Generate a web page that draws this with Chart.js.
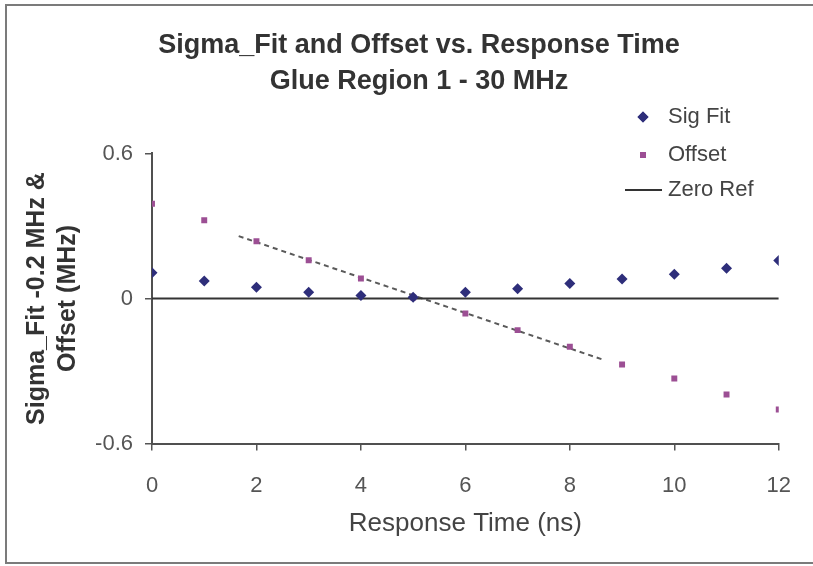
<!DOCTYPE html>
<html><head><meta charset="utf-8">
<script src="https://cdn.jsdelivr.net/npm/chart.js@4.4.1/dist/chart.umd.min.js"></script>
<style>
html,body{margin:0;padding:0;background:#fff;overflow:hidden;}
canvas{display:block;}
</style></head><body>
<canvas id="c" width="813" height="566"></canvas>
<script>
// ---- data ----
const responseTime = [0,1,2,3,4,5,6,7,8,9,10,11,12];
const sigFit = [0.106,0.072,0.047,0.026,0.012,0.005,0.026,0.040,0.062,0.081,0.100,0.125,0.157];
const offsetVals = [0.392,0.324,0.237,0.158,0.083,0.004,-0.062,-0.131,-0.200,-0.273,-0.331,-0.397,-0.459];
const zeroRefX = [0,12];
const zeroRefY = [0,0];
const trendX = [1.66,8.66];
const trendY = [0.258,-0.255];
const xTicks = [0,2,4,6,8,10,12];
const yTicks = [-0.6,0,0.6];
const seriesLabels = ['Sig Fit','Offset','Zero Ref'];
const titleLines = ['Sigma_Fit and Offset vs. Response Time','Glue Region 1 - 30 MHz'];
const xTitle = 'Response Time (ns)';
const yTitleLines = ['Sigma_Fit -0.2 MHz &','Offset (MHz)'];

const FAMILY = '"Liberation Sans", Arial, sans-serif';
Chart.defaults.font.family = FAMILY;

const pts = (xs, ys) => xs.map((x,i)=>({x:x, y:ys[i]}));

const framePlugin = {
  id: 'frame',
  beforeDraw(chart) {
    const ctx = chart.ctx;
    ctx.save();
    ctx.fillStyle = '#fff';
    ctx.fillRect(0,0,chart.width,chart.height);
    ctx.strokeStyle = '#7b7b7b';
    ctx.lineWidth = 2;
    ctx.beginPath();
    ctx.moveTo(chart.width + 5, 5);
    ctx.lineTo(6, 5);
    ctx.lineTo(6, 563);
    ctx.lineTo(chart.width + 5, 563);
    ctx.stroke();
    ctx.restore();
  }
};

const legendPlugin = {
  id: 'sideLegend',
  afterDraw(chart) {
    const ctx = chart.ctx;
    const rows = [117,155,190];
    ctx.save();
    ctx.font = '22px ' + FAMILY;
    ctx.textBaseline = 'middle';
    ctx.textAlign = 'left';
    chart.data.datasets.slice(0,3).forEach((ds,i)=>{
      const y = rows[i];
      const mx = 643;
      if (ds.showLine) {
        ctx.strokeStyle = ds.borderColor; ctx.lineWidth = ds.borderWidth;
        ctx.beginPath(); ctx.moveTo(625,y); ctx.lineTo(662,y); ctx.stroke();
      } else {
        ctx.fillStyle = ds.backgroundColor;
        Chart.helpers.drawPoint(ctx, {pointStyle: ds.pointStyle, radius: ds.pointRadius, borderWidth: 0}, mx, y);
        ctx.fill();
      }
      ctx.fillStyle = '#444';
      ctx.fillText(ds.label, 668, y);
    });
    ctx.restore();
  }
};

const axisCommon = {
  grid: {drawOnChartArea:false, drawTicks:true, tickLength:7, color:'#555', lineWidth:1.5},
  border: {display:true, color:'#505050', width:2}
};

new Chart(document.getElementById('c'), {
  type: 'scatter',
  data: {
    datasets: [
      {label: seriesLabels[0], data: pts(responseTime, sigFit), pointStyle:'rectRot', pointRadius:5.5, backgroundColor:'#2e2e7a', borderColor:'#2e2e7a', borderWidth:0, showLine:false},
      {label: seriesLabels[1], data: pts(responseTime, offsetVals), pointStyle:'rect', pointRadius:4.2, backgroundColor:'#9c4f94', borderColor:'#9c4f94', borderWidth:0, showLine:false},
      {label: seriesLabels[2], data: pts(zeroRefX, zeroRefY), showLine:true, pointRadius:0, borderColor:'#333', backgroundColor:'#333', borderWidth:2},
      {label: 'Trend', data: pts(trendX, trendY), showLine:true, pointRadius:0, borderColor:'#5a5a5a', backgroundColor:'#5a5a5a', borderWidth:2, borderDash:[5,4]}
    ]
  },
  options: {
    responsive:false, animation:false, devicePixelRatio:1,
    layout: {padding:{left:49, right:24, top:0, bottom:0}},
    plugins: {
      legend:{display:false},
      tooltip:{enabled:false},
      title:{display:true, text:titleLines, color:'#333', font:{size:27, weight:'bold', lineHeight:1.333}, padding:{top:28,bottom:53.5}}
    },
    scales: {
      x: Object.assign({
        type:'linear', min:0, max:12,
        afterBuildTicks: s => { s.ticks = xTicks.map(v=>({value:v})); },
        afterFit: s => { s.height = 122.5; },
        ticks:{font:{size:22}, color:'#555', padding:22, maxRotation:0},
        title:{display:true, text:xTitle, color:'#444', font:{size:26}, padding:{top:0,bottom:27}}
      }, axisCommon),
      y: Object.assign({
        type:'linear', min:-0.6, max:0.6,
        afterBuildTicks: s => { s.ticks = yTicks.map(v=>({value:v})); },
        afterFit: s => { s.width = 103; },
        ticks:{font:{size:22}, color:'#555', padding:12},
        title:{display:true, text:yTitleLines, color:'#333', font:{size:25, weight:'bold', lineHeight:1.24}, padding:{top:-27.5,bottom:0}}
      }, axisCommon)
    }
  },
  plugins:[framePlugin, legendPlugin]
});
</script>
</body></html>
